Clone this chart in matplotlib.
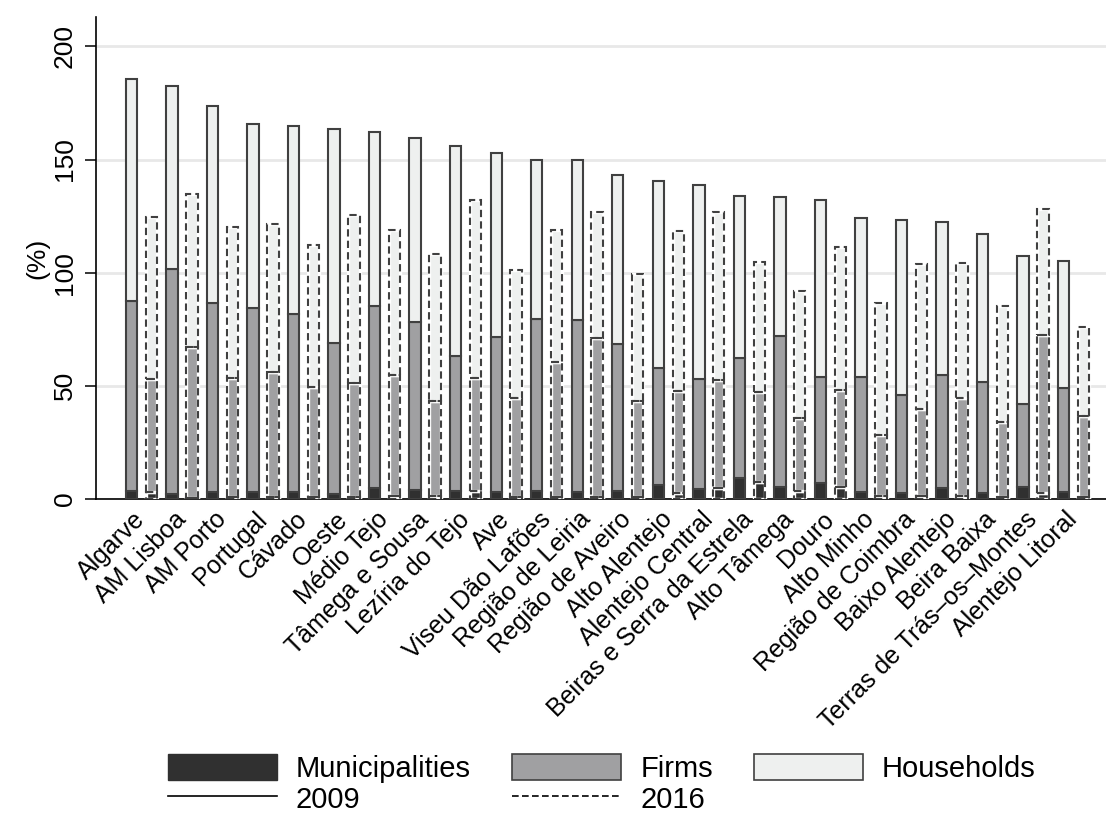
import numpy as np
import matplotlib
matplotlib.use("Agg")
import matplotlib.pyplot as plt
from matplotlib.patches import Patch
from matplotlib.lines import Line2D

plt.rcParams['font.family'] = ['Liberation Sans', 'DejaVu Sans']

regions = ["Algarve", "AM Lisboa", "AM Porto", "Portugal", "Cávado", "Oeste",
           "Médio Tejo", "Tâmega e Sousa", "Lezíria do Tejo", "Ave",
           "Viseu Dão Lafões", "Região de Leiria", "Região de Aveiro",
           "Alto Alentejo", "Alentejo Central", "Beiras e Serra da Estrela",
           "Alto Tâmega", "Douro", "Alto Minho", "Região de Coimbra",
           "Baixo Alentejo", "Beira Baixa", "Terras de Trás–os–Montes",
           "Alentejo Litoral"]

# debt components (% of GDP), 2009
muni_2009 = [3.7, 2.0, 3.0, 3.0, 3.0, 2.0, 4.7, 4.0, 3.7, 3.0, 3.7, 3.3,
             3.5, 6.2, 4.3, 9.1, 5.5, 7.2, 3.2, 2.8, 4.7, 2.5, 5.2, 3.2]
firms_2009 = [84.0, 99.8, 83.4, 81.4, 78.9, 66.9, 80.8, 74.2, 59.7, 68.5, 75.8, 75.7,
              64.9, 51.9, 48.7, 53.1, 66.6, 46.5, 50.6, 43.2, 50.2, 49.0, 36.7, 45.8]
hh_2009 = [98.1, 80.7, 87.1, 81.2, 83.0, 94.7, 76.6, 81.4, 92.5, 81.5, 70.5, 70.7,
           74.7, 82.3, 85.8, 71.7, 61.2, 78.6, 70.4, 77.5, 67.4, 65.6, 65.3, 56.3]

# debt components (% of GDP), 2016
muni_2016 = [3.0, 0.5, 1.0, 1.0, 1.0, 1.0, 1.5, 1.5, 3.5, 1.0, 1.0, 1.0,
             1.0, 2.5, 4.7, 7.5, 3.5, 5.5, 1.5, 1.5, 1.5, 1.0, 2.8, 1.0]
firms_2016 = [50.0, 66.5, 52.4, 55.3, 48.6, 50.2, 53.4, 41.9, 49.9, 43.8, 59.5, 70.1,
              42.4, 45.3, 48.0, 39.8, 32.5, 42.7, 26.8, 38.2, 43.0, 32.9, 69.8, 35.7]
hh_2016 = [71.6, 67.8, 67.0, 65.4, 62.8, 74.1, 63.8, 65.0, 78.5, 56.5, 58.2, 55.7,
           56.0, 70.8, 74.0, 57.6, 56.0, 63.0, 58.3, 64.3, 59.8, 51.5, 55.6, 39.3]

c_muni = '#303030'
c_firms = '#a0a0a2'
c_hh = '#eef0ef'
edge = '#404040'
dash = (0, (3.5, 2))

fig = plt.figure(figsize=(11.06, 8.16), dpi=100)
ax = fig.add_axes([0.0868, 0.3885, 0.9132, 0.5907])

x = np.arange(len(regions))
w = 0.28
off = 0.245

# 2009: solid outlines
b1 = np.array(muni_2009)
b2 = b1 + np.array(firms_2009)
ax.bar(x - off, muni_2009, w, color=c_muni, edgecolor=edge, lw=1.5, zorder=3)
ax.bar(x - off, firms_2009, w, bottom=b1, color=c_firms, edgecolor=edge, lw=1.5, zorder=3)
ax.bar(x - off, hh_2009, w, bottom=b2, color=c_hh, edgecolor=edge, lw=1.5, zorder=3)

# 2016: dashed outlines over a thin light rim
d1 = np.array(muni_2016)
d2 = d1 + np.array(firms_2016)
for vals, bot, col in [(muni_2016, 0, c_muni), (firms_2016, d1, c_firms), (hh_2016, d2, c_hh)]:
    ax.bar(x + off, vals, w, bottom=bot, color=col, edgecolor='white', lw=2.4, zorder=3)
    ax.bar(x + off, vals, w, bottom=bot, fill=False, edgecolor=edge, lw=1.5,
           linestyle=dash, zorder=4)

ax.set_xlim(-1.12, 23.8)
ax.set_ylim(0, 213)
ax.set_yticks([0, 50, 100, 150, 200])
ax.set_yticklabels(['0', '50', '100', '150', '200'], rotation=90, va='center', fontsize=19)
ax.yaxis.grid(True, color='#e8e8e8', lw=2, zorder=0)
ax.set_axisbelow(True)
ax.tick_params(axis='y', length=8, width=1.1, pad=6)
ax.set_ylabel('(%)', fontsize=19, labelpad=2)

ax.set_xticks(x)
ax.set_xticklabels(regions, rotation=45, ha='right', va='center', rotation_mode='anchor',
                   fontsize=18)
ax.tick_params(axis='x', length=0, pad=12)

for s in ['top', 'right']:
    ax.spines[s].set_visible(False)
ax.spines['left'].set_linewidth(1.2)
ax.spines['bottom'].set_linewidth(1.2)

handles = [Patch(facecolor=c_muni, edgecolor=c_muni),
           Line2D([], [], color='black', lw=1.2),
           Patch(facecolor=c_firms, edgecolor=edge, lw=1.2),
           Line2D([], [], color='black', lw=1.2, linestyle=(0, (4, 2))),
           Patch(facecolor=c_hh, edgecolor=edge, lw=1.2),
           Patch(facecolor='none', edgecolor='none')]
labels = ['Municipalities', '2009', 'Firms', '2016', 'Households', '']
fig.legend(handles, labels, ncol=3, loc='center', bbox_to_anchor=(0.544, 0.0395),
           frameon=False, fontsize=21, handlelength=3.75, handleheight=1.0,
           handletextpad=0.65, columnspacing=1.4, labelspacing=0.05)

fig.savefig('out.png', dpi=100)
